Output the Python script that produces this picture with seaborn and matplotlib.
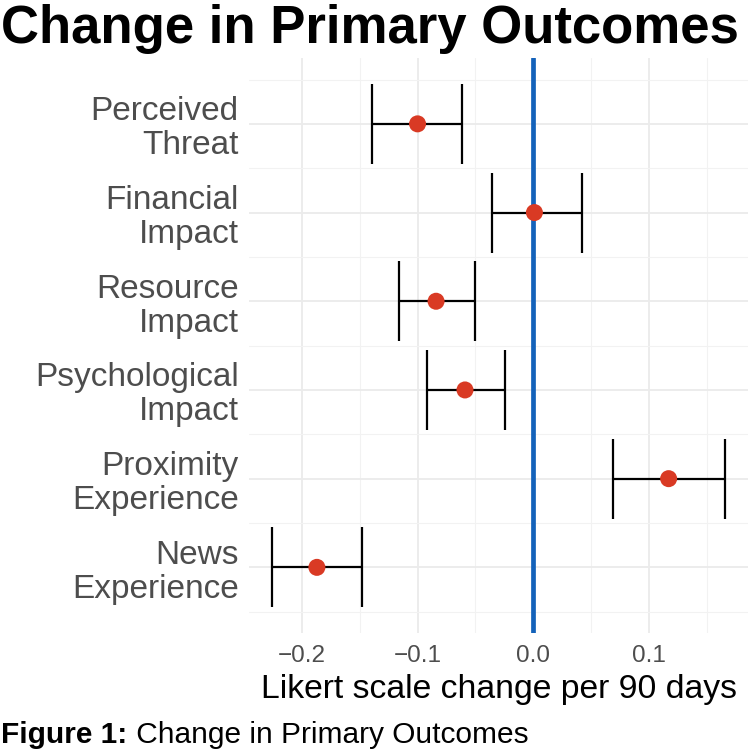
import matplotlib
matplotlib.use("Agg")
import matplotlib.pyplot as plt
import numpy as np
import pandas as pd
import seaborn as sns

# values (Likert change per 90 days)
outcomes = ['Perceived\nThreat', 'Financial\nImpact', 'Resource\nImpact',
            'Psychological\nImpact', 'Proximity\nExperience', 'News\nExperience']
estimate = [-0.100, 0.001, -0.084, -0.059, 0.117, -0.187]
ci_low = [-0.139, -0.036, -0.116, -0.092, 0.069, -0.226]
ci_high = [-0.062, 0.042, -0.050, -0.024, 0.166, -0.148]

df = pd.DataFrame({'outcome': outcomes, 'est': estimate, 'lo': ci_low, 'hi': ci_high})
df['pos'] = np.arange(len(df))

sns.set_theme(style='whitegrid')
plt.rcParams['font.family'] = ['Liberation Sans', 'DejaVu Sans']

fig = plt.figure(figsize=(7.48, 7.56), dpi=100)
ax = fig.add_axes([0.333, 0.1627, 0.667, 0.7603])

ax.axvline(0, color='#1462BA', lw=3.4, zorder=2)
ax.errorbar(df['est'], df['pos'], xerr=[df['est'] - df['lo'], df['hi'] - df['est']],
            fmt='none', ecolor='black', elinewidth=1.6, capsize=29, capthick=1.6, zorder=3)
sns.scatterplot(data=df, x='est', y='pos', color='#D93A24', s=150, edgecolor='none',
                ax=ax, zorder=4)

span = max(ci_high) - min(ci_low)
ax.set_xlim(min(ci_low) - 0.05 * span, max(ci_high) + 0.05 * span)
ax.set_ylim(len(df) - 1 + 0.74, -0.74)
ax.set_xticks([-0.2, -0.1, 0.0, 0.1])
ax.set_xticklabels(['\u22120.2', '\u22120.1', '0.0', '0.1'], fontsize=17.5, color='#4D4D4D')
ax.set_xticks([-0.15, -0.05, 0.05, 0.15], minor=True)
ax.set_yticks(df['pos'])
ax.set_yticklabels(outcomes, fontsize=24, color='#4D4D4D', linespacing=1.12)
ax.set_yticks(np.arange(-0.5, len(df), 1.0), minor=True)
ax.grid(which='major', color='#EBEBEB', lw=1.3)
ax.grid(which='minor', color='#F2F2F2', lw=0.8)
ax.tick_params(which='both', length=0)
ax.tick_params(axis='y', pad=7.5)
ax.tick_params(axis='x', pad=9)
for s in ax.spines.values():
    s.set_visible(False)
ax.set_xlabel('Likert scale change per 90 days', fontsize=24.3, color='black', labelpad=5)
ax.set_ylabel('')

fig.text(0.001, 1 - 43 / 756, 'Change in Primary Outcomes', fontsize=38,
         fontweight='bold', color='black', ha='left', va='baseline')
cap = fig.text(0.002, 1 - 743 / 756, 'Figure 1:', fontsize=21.5, fontweight='bold',
               color='black', ha='left', va='baseline')
fig.add_artist(plt.Annotation(' Change in Primary Outcomes', xy=(1, 0), xycoords=cap,
                              fontsize=21.5, color='black', ha='left', va='bottom'))

fig.savefig('out.png', dpi=100)
